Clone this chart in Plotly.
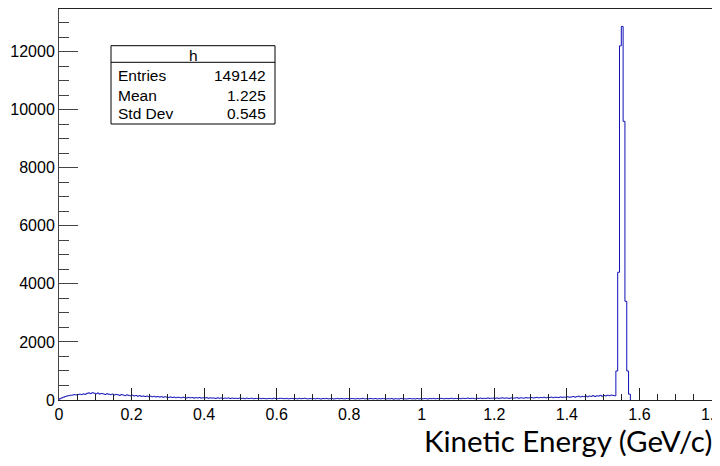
import plotly.graph_objects as go

# Histogram: bin width 0.005 GeV, starting at 0
bin_width = 0.005
counts = [
    # 0.00 - 0.095
    40, 70, 95, 120, 140, 150, 165, 170, 185, 175, 190, 200, 185, 210, 195, 230, 245, 220, 250, 235,
    # 0.10
    215, 240, 205, 225, 210, 190, 215, 200, 185, 205, 170, 195, 180, 160, 185, 170, 150, 175, 160, 145,
    # 0.20
    165, 140, 155, 130, 150, 125, 140, 120, 135, 115, 130, 110, 125, 105, 120, 100, 115, 95, 110, 100,
    # 0.30
    90, 105, 85, 100, 80, 95, 85, 75, 95, 80, 70, 90, 75, 85, 65, 80, 70, 85, 65, 75,
    # 0.40
    70, 80, 60, 75, 65, 70, 55, 75, 60, 70, 55, 65, 60, 70, 50, 65, 55, 60, 50, 65,
    # 0.50
    55, 60, 45, 65, 50, 55, 60, 45, 55, 50, 60, 45, 55, 50, 40, 55, 50, 45, 60, 50,
    # 0.60
    45, 55, 60, 50, 45, 55, 40, 50, 55, 45, 50, 40, 55, 45, 50, 60, 45, 40, 50, 45,
    # 0.70
    50, 40, 55, 45, 35, 50, 45, 55, 40, 45, 50, 35, 45, 55, 40, 50, 45, 40, 50, 45,
    # 0.80
    40, 50, 45, 35, 50, 40, 45, 55, 40, 45, 35, 50, 45, 40, 50, 35, 45, 40, 50, 45,
    # 0.90
    35, 45, 40, 50, 30, 45, 40, 35, 50, 45, 40, 35, 45, 50, 40, 45, 35, 50, 40, 45,
    # 1.00
    40, 50, 45, 35, 50, 45, 55, 40, 50, 45, 55, 50, 40, 55, 45, 50, 60, 45, 55, 50,
    # 1.10
    55, 45, 60, 50, 55, 65, 50, 60, 55, 45, 60, 55, 65, 50, 60, 55, 70, 55, 60, 65,
    # 1.20
    60, 70, 55, 65, 75, 60, 70, 65, 55, 75, 65, 70, 80, 60, 75, 70, 65, 80, 70, 75,
    # 1.30
    85, 70, 80, 90, 75, 85, 80, 95, 75, 90, 85, 100, 80, 95, 90, 85, 105, 90, 100, 95,
    # 1.40
    110, 95, 105, 120, 100, 115, 130, 105, 125, 115, 140, 110, 135, 125, 150, 120, 145, 135, 160, 130,
    # 1.50 - 1.530
    155, 140, 165, 150, 170, 160, 145,
    # peak 1.535 - 1.570
    1000, 4400, 12200, 12870, 9600, 3400, 1000, 200,
]

x_tickvals = [0, 0.2, 0.4, 0.6, 0.8, 1.0, 1.2, 1.4, 1.6, 1.8]
x_ticktext = ["0", "0.2", "0.4", "0.6", "0.8", "1", "1.2", "1.4", "1.6", "1.8"]
y_tickvals = [0, 2000, 4000, 6000, 8000, 10000, 12000]
y_ticktext = ["0", "2000", "4000", "6000", "8000", "10000", "12000"]

stats_title = "h"
stats_labels = ["Entries", "Mean", "Std Dev"]
stats_values = ["149142", "1.225", "0.545"]
x_title = "Kinetic Energy (GeV/c)"

edges = [i * bin_width for i in range(len(counts) + 1)]
xs = [0.0] + edges
ys = [0] + counts + [0]

fig = go.Figure()
fig.add_trace(go.Scatter(
    x=xs, y=ys, mode="lines", line_shape="hv",
    line=dict(color="#1010b8", width=1), showlegend=False, hoverinfo="skip",
))

# the page body has an 8px margin, so the figure is offset by 8px in the window
OFF = 8
W, H = 712, 458
L, R, T, B = 59 - OFF, 8, 9 - OFF, 66
pw, ph = W - L - R, H - T - B

def px(x):  # window pixel -> paper
    return (x - OFF - L) / pw

def py(y):
    return (H - B - (y - OFF)) / ph

tickfont = dict(family="Liberation Sans, Arial, sans-serif", size=16, color="black")

fig.update_layout(
    width=W, height=H,
    margin=dict(l=L, r=R, t=T, b=B, autoexpand=False),
    paper_bgcolor="white", plot_bgcolor="white",
    xaxis=dict(
        range=[0, 1.8], tickmode="array", tickvals=x_tickvals, ticktext=x_ticktext,
        ticks="inside", ticklen=12, tickcolor="#222", automargin=False,
        ticklabeloverflow="allow",
        showline=True, linecolor="#222", linewidth=1, mirror=True, showgrid=False, zeroline=False,
        tickfont=tickfont,
        minor=dict(dtick=0.05, tick0=0, ticks="inside", ticklen=6, tickcolor="#222", showgrid=False),
    ),
    yaxis=dict(
        range=[0, 13470], tickmode="array", tickvals=y_tickvals, ticktext=y_ticktext,
        ticks="inside", ticklen=19, tickcolor="#444", automargin=False,
        ticklabeloverflow="allow",
        showline=True, linecolor="#444", linewidth=1, mirror=True, showgrid=False, zeroline=False,
        tickfont=tickfont,
        minor=dict(dtick=500, tick0=0, ticks="inside", ticklen=10, tickcolor="#444", showgrid=False),
    ),
)

# stats box
fig.add_shape(type="rect", xref="paper", yref="paper",
              x0=px(111), x1=px(275), y0=py(124), y1=py(45.7),
              line=dict(color="black", width=1), fillcolor="white", layer="above")
fig.add_shape(type="line", xref="paper", yref="paper",
              x0=px(111), x1=px(275), y0=py(62.3), y1=py(62.3),
              line=dict(color="black", width=1), layer="above")
statfont = dict(family="Liberation Sans, Arial, sans-serif", size=15.5, color="black")
fig.add_annotation(text=stats_title, xref="paper", yref="paper", x=px(193), y=py(55.5),
                   showarrow=False, font=statfont, xanchor="center", yanchor="middle")
for i, (lab, val) in enumerate(zip(stats_labels, stats_values)):
    yy = py(76 + i * 19)
    fig.add_annotation(text=lab, xref="paper", yref="paper", x=px(116), y=yy,
                       showarrow=False, font=statfont, xanchor="left", yanchor="middle")
    fig.add_annotation(text=val, xref="paper", yref="paper", x=px(268), y=yy,
                       showarrow=False, font=statfont, xanchor="right", yanchor="middle")

fig.add_annotation(text=x_title, xref="paper", yref="paper", x=px(714), y=py(441),
                   showarrow=False, xanchor="right", yanchor="middle",
                   font=dict(family="Lato, Carlito, sans-serif", size=29.5, color="black"))

fig.write_html("out.html")
